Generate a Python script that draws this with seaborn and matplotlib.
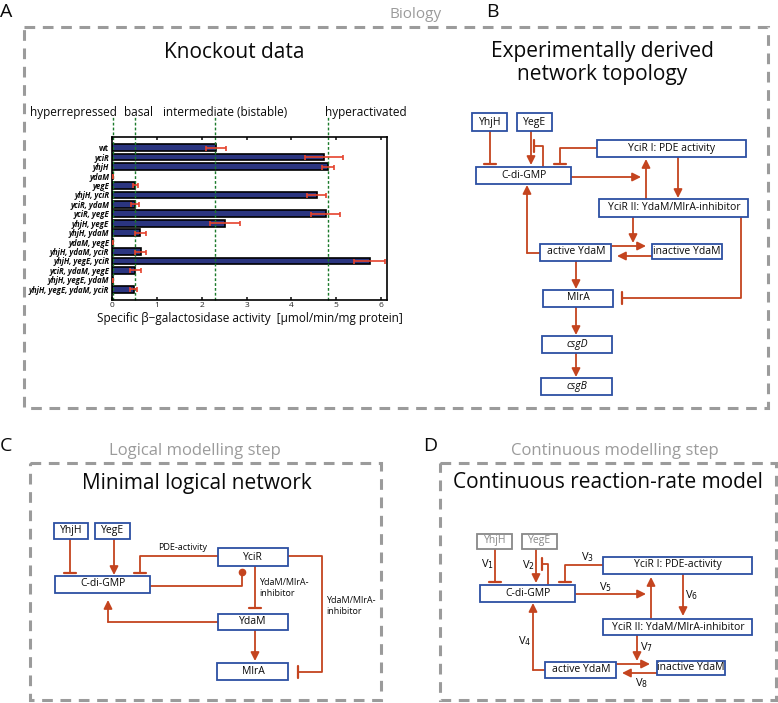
import numpy as np
import pandas as pd
import matplotlib
matplotlib.use("Agg")
import matplotlib.pyplot as plt
import matplotlib.transforms as mtransforms
import seaborn as sns
from matplotlib.patches import Rectangle

# === Knockout data (panel A) ===
strains = ["wt", "yciR", "yhjH", "ydaM", "yegE", "yhjH, yciR", "yciR, ydaM",
           "yciR, yegE", "yhjH, yegE", "yhjH, ydaM", "ydaM, yegE",
           "yhjH, ydaM, yciR", "yhjH, yegE, yciR", "yciR, ydaM, yegE",
           "yhjH, yegE, ydaM", "yhjH, yegE, ydaM, yciR"]
activity = [2.32, 4.73, 4.81, 0.02, 0.52, 4.56, 0.52, 4.76, 2.52, 0.63, 0.02,
            0.64, 5.74, 0.52, 0.02, 0.48]
activity_err = [0.22, 0.42, 0.14, 0.01, 0.05, 0.22, 0.09, 0.33, 0.34, 0.12,
                0.01, 0.12, 0.34, 0.12, 0.01, 0.08]
thresholds = [0.02, 0.52, 2.30, 4.81]
regime_labels = ["hyperrepressed", "basal", "intermediate (bistable)", "hyperactivated"]
regime_label_x = [-1.83, 0.27, 1.14, 4.75]

RED = "#c4441f"
BLUE = "#2c4fa3"
GRAY = "#9b9b9b"
INK = "#0a0a0a"
W, H = 778, 703

sns.set_theme(style="ticks")
plt.rcParams["font.family"] = ["Open Sans", "DejaVu Sans"]

fig = plt.figure(figsize=(W / 100, H / 100), dpi=100)

# === overlay in pixel coordinates for the diagrams ===
ov = fig.add_axes([0, 0, 1, 1])
ov.set_xlim(0, W)
ov.set_ylim(H, 0)
ov.axis("off")


def box(cx, cy, w, h, text, ec=BLUE, tc=INK, style="normal", fs=7.5):
    ov.add_patch(Rectangle((cx - w / 2, cy - h / 2), w, h, fc="white", ec=ec, lw=1.3, zorder=3))
    ov.text(cx, cy, text, ha="center", va="center", fontsize=fs, color=tc,
            style=style, zorder=4)


def link(pts, kind="arrow"):
    xs, ys = zip(*pts)
    if kind == "arrow":
        ov.plot(xs[:-1], ys[:-1], color=RED, lw=1.3, zorder=2)
        ov.annotate("", xy=pts[-1], xytext=pts[-2],
                    arrowprops=dict(arrowstyle="-|>,head_length=0.5,head_width=0.25",
                                    color=RED, lw=1.3, shrinkA=0, shrinkB=0,
                                    mutation_scale=10), zorder=2)
        return
    ov.plot(xs, ys, color=RED, lw=1.3, zorder=2)
    (x0, y0), (x1, y1) = pts[-2], pts[-1]
    d = np.hypot(x1 - x0, y1 - y0)
    ux, uy = (x1 - x0) / d, (y1 - y0) / d
    if kind == "inhibit":
        ov.plot([x1 - uy * 6, x1 + uy * 6], [y1 + ux * 6, y1 - ux * 6], color=RED, lw=1.6, zorder=2)
    elif kind == "dot":
        ov.plot(x1, y1, "o", color=RED, ms=4.5, zorder=2)


def frame(x0, y0, x1, y1):
    ov.add_patch(Rectangle((x0, y0), x1 - x0, y1 - y0, fill=False, ec=GRAY, lw=2.2,
                           ls=(0, (3.5, 2.5))))


# frames and headings
frame(24, 27, 768, 408)
frame(30, 463, 381, 700)
frame(440, 463, 776, 700)
for lab, x, y in [("A", 0, 12), ("B", 486, 12), ("C", 0, 446), ("D", 423, 446)]:
    ov.text(x, y, lab, fontsize=14, ha="left", va="center", color=INK)
ov.text(416, 15, "Biology", fontsize=11, color=GRAY, ha="center", va="center")
ov.text(195, 451, "Logical modelling step", fontsize=12, color=GRAY, ha="center", va="center")
ov.text(615, 451, "Continuous modelling step", fontsize=12, color=GRAY, ha="center", va="center")
ov.text(234, 52, "Knockout data", fontsize=15, ha="center", va="center", color=INK)
ov.text(602, 63, "Experimentally derived\nnetwork topology", fontsize=15, ha="center",
        va="center", linespacing=1.1, color=INK)
ov.text(197, 483, "Minimal logical network", fontsize=15, ha="center", va="center", color=INK)
ov.text(608, 483, "Continuous reaction-rate model", fontsize=15, ha="center", va="center",
        color=INK)

# === panel B: network topology ===
box(490, 122, 35, 18, "YhjH")
box(535, 122, 35, 18, "YegE")
box(524, 175, 95, 17, "C-di-GMP")
box(672, 148, 149, 17, "YciR I: PDE activity")
box(674, 208, 149, 18, "YciR II: YdaM/MlrA-inhibitor")
box(576, 252, 71, 17, "active YdaM")
box(687, 251, 70, 15, "inactive YdaM")
box(578, 298, 70, 17, "MlrA")
box(577, 344, 70, 17, "csgD", style="italic")
box(577, 386, 71, 17, "csgB", style="italic")
link([(490, 131), (490, 164)], "inhibit")
link([(531, 131), (531, 165)])
link([(543, 166), (543, 146), (534, 146)], "inhibit")
link([(598, 148), (560, 148), (560, 164)], "inhibit")
link([(571, 177), (641, 177)])
link([(646, 199), (646, 159)])
link([(678, 157), (678, 198)])
link([(633, 217), (633, 243)])
link([(612, 246), (646, 246)])
link([(652, 256), (617, 256)])
link([(541, 253), (527, 253), (527, 185)])
link([(576, 261), (576, 289)])
link([(741, 217), (741, 298), (622, 298)], "inhibit")
link([(576, 307), (576, 335)])
link([(576, 353), (576, 377)])

# === panel C: minimal logical network ===
box(71, 531, 34, 16, "YhjH")
box(113, 531, 35, 16, "YegE")
box(103, 584, 95, 17, "C-di-GMP")
box(253, 557, 70, 18, "YciR")
box(253, 622, 70, 16, "YdaM")
box(253, 671, 71, 17, "MlrA")
link([(70, 539), (70, 573)], "inhibit")
link([(114, 539), (114, 575)])
link([(218, 556), (140, 556), (140, 573)], "inhibit")
link([(151, 586), (242, 586), (242, 572)], "dot")
link([(255, 566), (255, 608)], "inhibit")
link([(218, 622), (108, 622), (108, 600)])
link([(288, 556), (322, 556), (322, 672), (298, 672)], "inhibit")
link([(255, 630), (255, 661)])
ov.text(183, 548, "PDE-activity", fontsize=6.5, ha="center", va="center", color=INK)
ov.text(259, 588, "YdaM/MlrA-\ninhibitor", fontsize=6.5, ha="left", va="center", color=INK)
ov.text(326, 606, "YdaM/MlrA-\ninhibitor", fontsize=6.5, ha="left", va="center", color=INK)

# === panel D: continuous reaction-rate model ===
box(495, 541, 35, 15, "YhjH", ec="#888888", tc="#888888")
box(540, 541, 35, 15, "YegE", ec="#888888", tc="#888888")
box(528, 593, 95, 17, "C-di-GMP")
box(678, 565, 149, 17, "YciR I: PDE-activity")
box(678, 627, 149, 16, "YciR II: YdaM/MlrA-inhibitor")
box(581, 670, 71, 16, "active YdaM")
box(691, 668, 68, 14, "inactive YdaM")
link([(495, 548), (495, 582)], "inhibit")
link([(536, 548), (536, 583)])
link([(548, 584), (548, 564), (542, 564)], "inhibit")
link([(603, 565), (565, 565), (565, 582)], "inhibit")
link([(576, 594), (646, 594)])
link([(651, 618), (651, 577)])
link([(683, 574), (683, 616)])
link([(546, 670), (533, 670), (533, 603)])
link([(637, 635), (637, 661)])
link([(617, 664), (650, 664)])
link([(657, 673), (622, 673)])
for i, x, y in [(1, 487, 564), (2, 528, 565), (3, 587, 557), (5, 605, 587),
                (6, 692, 595), (4, 525, 641), (7, 646, 647), (8, 642, 683)]:
    ov.text(x, y, r"V$_{%d}$" % i, fontsize=8, ha="center", va="center", color=INK)

# === panel A: knockout bar chart ===
df = pd.DataFrame({"strain": strains, "activity": activity, "err": activity_err})
ax = fig.add_axes([112 / W, 1 - 300 / H, 275 / W, 163 / H])
sns.barplot(data=df, x="activity", y="strain", orient="h", ax=ax, color="#2b3580",
            saturation=1, edgecolor="black", linewidth=1.2, width=0.7, errorbar=None)
ax.errorbar(df["activity"], np.arange(len(df)), xerr=df["err"], fmt="none",
            ecolor="#e5432d", elinewidth=1.2, capsize=1.8, capthick=1.2, zorder=5)
ax.set_xlim(0, 6.13)
ax.set_xticks(range(7))
ax.tick_params(axis="x", direction="in", top=True, length=2.5, labelsize=6, pad=1.5)
ax.tick_params(axis="y", length=0, labelsize=5.6, pad=2)
for t in ax.get_yticklabels():
    t.set_fontweight("bold")
    t.set_color(INK)
    if t.get_text() != "wt":
        t.set_fontstyle("italic")
for s in ax.spines.values():
    s.set_linewidth(1.2)
    s.set_color("black")
ax.set_ylabel("")
ax.set_xlabel("Specific β−galactosidase activity  [μmol/min/mg protein]", fontsize=8.5,
              labelpad=2, color=INK)

trans = mtransforms.blended_transform_factory(ax.transData, ax.transAxes)
for t in thresholds:
    ax.axvline(t, ymin=0, ymax=1.12, color="#1a7a2a", ls=(0, (2, 1.5)), lw=1, clip_on=False)
for lab, x in zip(regime_labels, regime_label_x):
    ax.text(x, 1.15, lab, transform=trans, fontsize=8.5, ha="left", va="center", color=INK)

fig.savefig("out.png", dpi=100)
